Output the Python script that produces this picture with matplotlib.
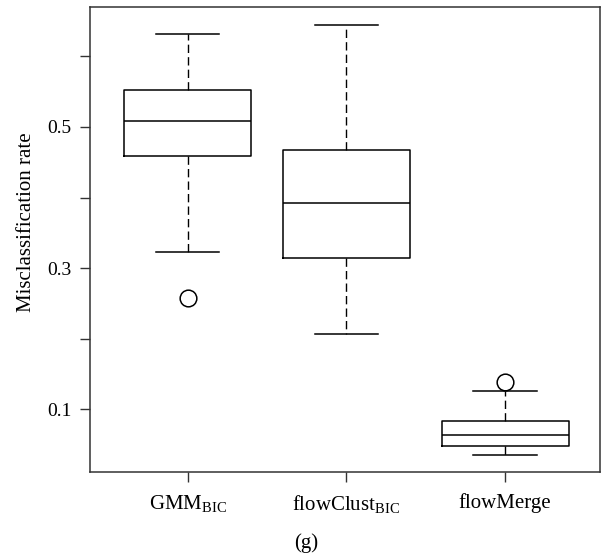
import matplotlib.pyplot as plt

plt.rcParams['font.family'] = ['Liberation Serif', 'DejaVu Serif']
plt.rcParams['mathtext.fontset'] = 'custom'
plt.rcParams['mathtext.rm'] = 'Liberation Serif'

# box statistics
labels = [r'GMM$_{\mathrm{BIC}}$', r'flowClust$_{\mathrm{BIC}}$', 'flowMerge']
whislo = [0.323, 0.206, 0.035]
q1 = [0.459, 0.315, 0.0485]
med = [0.508, 0.392, 0.064]
q3 = [0.552, 0.467, 0.083]
whishi = [0.631, 0.644, 0.1255]
fliers = [[0.2575], [], [0.139]]

stats = []
for i in range(len(labels)):
    stats.append(dict(label=labels[i], whislo=whislo[i], q1=q1[i], med=med[i],
                      q3=q3[i], whishi=whishi[i], fliers=fliers[i]))

fig = plt.figure(figsize=(6.04, 5.59), dpi=100)
ax = fig.add_axes([0.149, 0.156, 0.844, 0.831])

ax.bxp(stats, widths=0.8, capwidths=0.4,
       boxprops=dict(color='black', lw=1.1),
       medianprops=dict(color='black', lw=1.1),
       whiskerprops=dict(color='black', lw=1.0, linestyle=(0, (6, 3))),
       capprops=dict(color='black', lw=1.1),
       flierprops=dict(marker='o', markersize=12, markerfacecolor='none',
                       markeredgecolor='black', markeredgewidth=1.1))

ax.set_xlim(0.384, 3.597)
ax.set_ylim(0.0115, 0.6695)
ax.set_yticks([0.1, 0.2, 0.3, 0.4, 0.5, 0.6])
ax.set_yticklabels(['0.1', '', '0.3', '', '0.5', ''])
ax.tick_params(axis='both', length=7.5, width=1, color='#333333', labelsize=14, pad=6)
ax.tick_params(axis='x', pad=8, labelsize=15)
for s in ax.spines.values():
    s.set_color('#333333')
    s.set_linewidth(1.1)

ax.set_ylabel('Misclassification rate', fontsize=15)
ax.yaxis.set_label_coords(-0.106, 0.538)
fig.text(0.507, 0.028, '(g)', ha='center', va='center', fontsize=15)

fig.savefig('out.png', dpi=100)
